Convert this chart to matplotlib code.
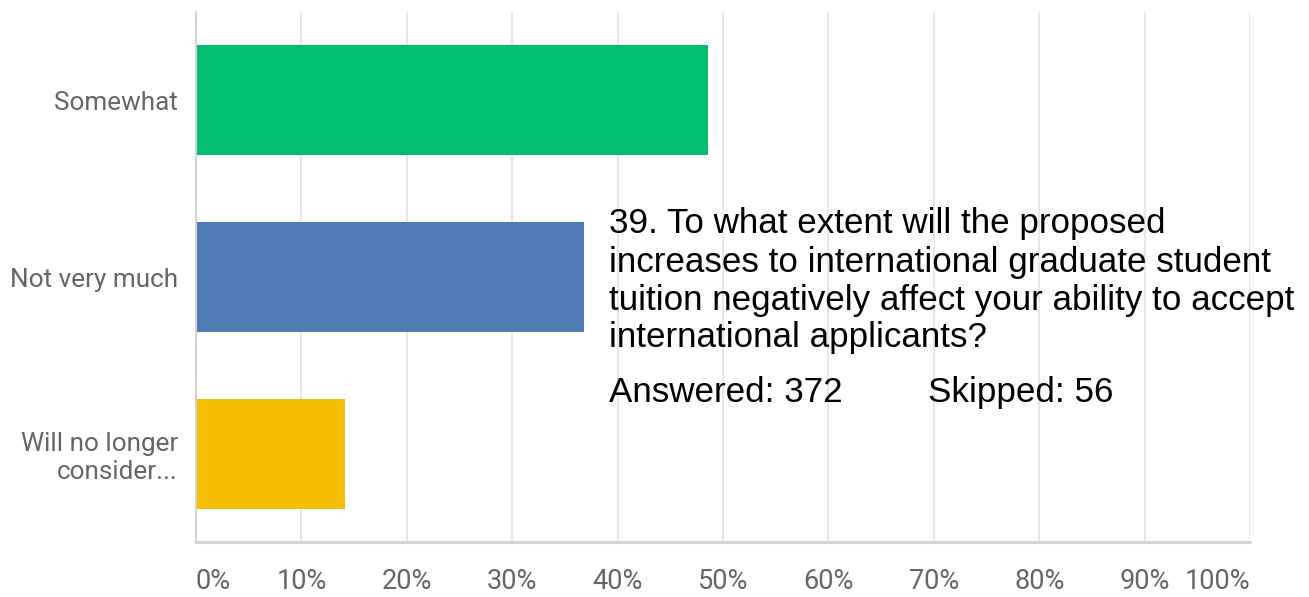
import matplotlib
matplotlib.use("Agg")
import matplotlib.pyplot as plt

# Survey responses (percent of respondents)
categories = ["Somewhat", "Not very much", "Will no longer\nconsider..."]
percents = [48.6, 36.8, 14.1]
bar_colors = ["#00BF6F", "#507CB6", "#F6BE00"]
tick_values = [0, 10, 20, 30, 40, 50, 60, 70, 80, 90, 100]
tick_labels = ["0%", "10%", "20%", "30%", "40%", "50%", "60%", "70%", "80%", "90%", "100%"]

question_lines = [
    "39. To what extent will the proposed",
    "increases to international graduate student",
    "tuition negatively affect your ability to accept",
    "international applicants?",
]
answered_text = "Answered: 372"
skipped_text = "Skipped: 56"

W, H = 1309, 597
fig = plt.figure(figsize=(W / 100, H / 100), dpi=100)
ax = fig.add_axes([196 / W, 1 - 542 / H, (1250 - 196) / W, (542 - 12) / H])

y_pos = list(range(len(categories)))
ax.barh(y_pos, percents, height=0.623, color=bar_colors, zorder=2)

ax.set_xlim(0, 100)
ax.set_ylim(2.5, -0.5)
ax.set_xticks(tick_values)
ax.set_xticklabels(tick_labels)
ax.set_yticks(y_pos)
ax.set_yticklabels(categories, linespacing=1.2)

label_color = "#62666a"
for lbl in ax.get_xticklabels():
    lbl.set_fontfamily("Roboto")
    lbl.set_fontsize(19.5)
    lbl.set_color(label_color)
for lbl in ax.get_yticklabels():
    lbl.set_fontfamily("Roboto")
    lbl.set_fontsize(18.8)
    lbl.set_color(label_color)
xt = ax.get_xticklabels()
xt[0].set_horizontalalignment("left")
xt[-1].set_horizontalalignment("right")

ax.tick_params(axis="x", length=0, pad=19)
ax.tick_params(axis="y", length=0, pad=13)

ax.grid(axis="x", color="#e8e8e8", linewidth=1.5, zorder=0)
ax.set_axisbelow(True)
for side in ("top", "right"):
    ax.spines[side].set_visible(False)
ax.spines["left"].set_color("#d4d4d4")
ax.spines["left"].set_linewidth(1.5)
ax.spines["bottom"].set_color("#d4d4d4")
ax.spines["bottom"].set_linewidth(2.2)

# Question text overlaid on the chart
txt_font = dict(family="Liberation Sans", fontsize=25.2, color="black")
baselines = [233, 272, 310, 347]
for line, yb in zip(question_lines, baselines):
    fig.text(609 / W, 1 - yb / H, line, ha="left", va="baseline", **txt_font)
fig.text(609 / W, 1 - 402 / H, answered_text, ha="left", va="baseline", **txt_font)
fig.text(928 / W, 1 - 402 / H, skipped_text, ha="left", va="baseline", **txt_font)

fig.savefig("out.png", dpi=100, facecolor="white")
